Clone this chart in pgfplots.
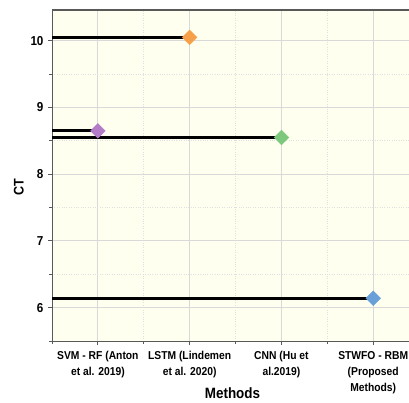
\documentclass[border=0pt]{standalone}
\usepackage{pgfplots}
\pgfplotsset{compat=1.18}
\usepackage{fontspec}
\setmainfont{Liberation Sans}
\newfontfamily\cond[FakeStretch=0.9]{Liberation Sans}
\definecolor{bgc}{RGB}{255,255,240}
\definecolor{corange}{RGB}{247,160,74}
\definecolor{cpurple}{RGB}{178,124,200}
\definecolor{cgreen}{RGB}{125,200,125}
\definecolor{cblue}{RGB}{105,160,215}
\begin{document}
\begin{tikzpicture}
\useasboundingbox (-52bp,-62bp) rectangle (357bp,341bp);
\begin{axis}[
  scale only axis,
  width=357bp, height=331bp,
  xmin=-0.5, xmax=3.39,
  ymin=5.5, ymax=10.46,
  axis background/.style={fill=bgc},
  axis line style={black!65, line width=0.9pt},
  axis x line*=bottom, axis y line*=left,
  xtick={0,1,2,3},
  minor xtick={-0.5,0.5,1.5,2.5},
  xticklabels={{SVM - RF (Anton\\et al. 2019)},{LSTM (Lindemen\\et al. 2020)},{CNN (Hu et\\al.2019)},{STWFO - RBM\\(Proposed\\Methods)}},
  xticklabel style={align=center, font=\cond\bfseries\fontsize{11.5}{16}\selectfont, yshift=-3bp},
  ytick={6,7,8,9,10},
  minor ytick={5.5,6.5,7.5,8.5,9.5},
  yticklabel style={font=\cond\bfseries\fontsize{13}{15}\selectfont, xshift=-1bp},
  /pgf/number format/assume math mode=true,
  tick align=outside,
  major tick length=4bp, minor tick length=3bp,
  tick style={black!65, line width=0.8pt},
  xmajorgrids, ymajorgrids, xminorgrids, yminorgrids,
  major grid style={black!15, line width=0.8pt},
  minor grid style={black!12, dotted, line width=0.6pt},
  xlabel={Methods},
  ylabel={CT},
  xlabel style={font=\cond\bfseries\fontsize{15}{17}\selectfont, yshift=13bp, xshift=2bp},
  ylabel style={font=\cond\bfseries\fontsize{14}{16}\selectfont, yshift=0bp, xshift=-12bp},
  clip=false,
]
\addplot[line width=2.6bp, black] coordinates {(-0.5,10.05) (0.97,10.05)};
\addplot[line width=2.6bp, black] coordinates {(-0.5,8.65) (-0.03,8.65)};
\addplot[line width=2.6bp, black] coordinates {(-0.5,8.55) (1.97,8.55)};
\addplot[line width=2.6bp, black] coordinates {(-0.5,6.14) (2.97,6.14)};
\addplot[only marks, mark=square*, mark size=5.2bp, mark options={rotate=45, draw=corange, fill=corange}] coordinates {(1,10.05)};
\addplot[only marks, mark=square*, mark size=5.2bp, mark options={rotate=45, draw=cpurple, fill=cpurple}] coordinates {(0,8.65)};
\addplot[only marks, mark=square*, mark size=5.2bp, mark options={rotate=45, draw=cgreen, fill=cgreen}] coordinates {(2,8.55)};
\addplot[only marks, mark=square*, mark size=5.2bp, mark options={rotate=45, draw=cblue, fill=cblue}] coordinates {(3,6.14)};
\draw[black!65, line width=1.2pt] (rel axis cs:0,1) -- (rel axis cs:1,1);
\end{axis}
\end{tikzpicture}
\end{document}
